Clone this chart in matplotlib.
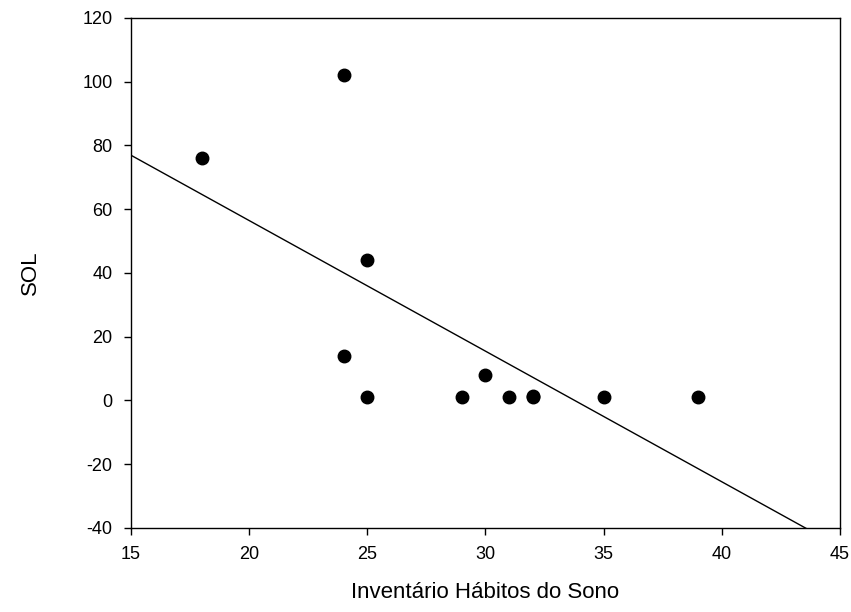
import matplotlib
matplotlib.use('Agg')
import matplotlib.pyplot as plt
import numpy as np

plt.rcParams['font.family'] = ['Liberation Sans', 'DejaVu Sans']
plt.rcParams['axes.unicode_minus'] = False

# Sleep habits inventory score vs. sleep onset latency (SOL)
habitos = np.array([18, 24, 24, 25, 25, 29, 30, 31, 32, 32, 35, 39])
sol = np.array([76, 102, 14, 44, 1, 1, 8, 1, 1, 1.5, 1, 1])

x_ticks = [15, 20, 25, 30, 35, 40, 45]
y_ticks = [-40, -20, 0, 20, 40, 60, 80, 100, 120]

# Linear regression line through the data
slope, intercept = np.polyfit(habitos, sol, 1)
xl = np.array([15, 45])

fig = plt.figure(figsize=(8.51, 6.12), dpi=100)
ax = fig.add_axes([0.1536, 0.1373, 0.8335, 0.8333])

ax.plot(xl, intercept + slope * xl, color='black', lw=1.0)
ax.plot(habitos, sol, 'o', color='black', markersize=9)

ax.set_xlim(15, 45)
ax.set_ylim(-40, 120)
ax.set_xticks(x_ticks)
ax.set_yticks(y_ticks)
ax.tick_params(direction='out', length=5, width=1, labelsize=13, pad=8)

for s in ax.spines.values():
    s.set_linewidth(1)

ax.set_xlabel('Inventário Hábitos do Sono', fontsize=16, labelpad=14)
ax.set_ylabel('SOL', fontsize=16, labelpad=30)

fig.savefig('out.png', dpi=100)
